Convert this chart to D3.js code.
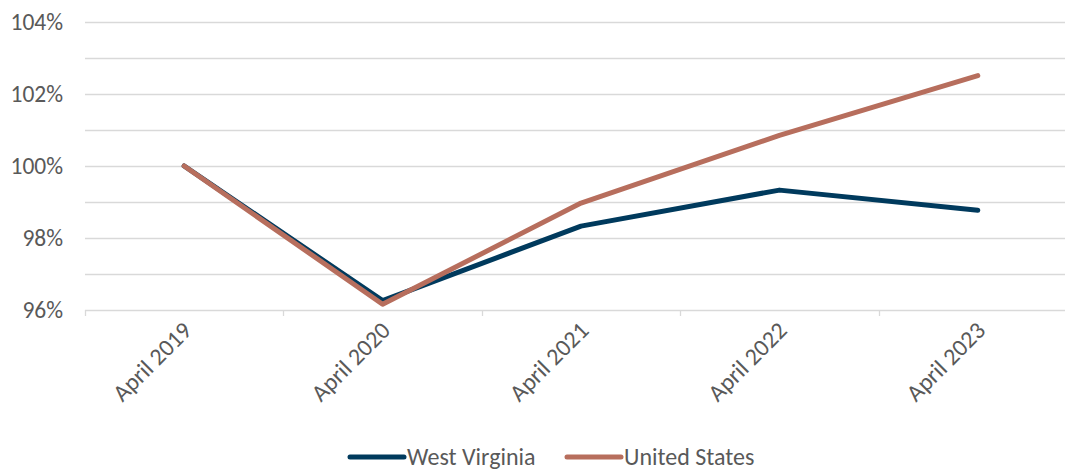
<!DOCTYPE html>
<html>
<head>
<meta charset="utf-8">
<script src="https://cdn.jsdelivr.net/npm/d3@7"></script>
<style>
  body { margin: 0; background: #fff; }
  svg { display: block; font-family: Carlito, "Open Sans", "Liberation Sans", sans-serif; }
</style>
</head>
<body>
<div id="chart"></div>
<script>
const width = 1065;
const height = 470;

// Data
const categories = ["April 2019", "April 2020", "April 2021", "April 2022", "April 2023"];
const westVirginia = [100, 96.26, 98.33, 99.33, 98.77];
const unitedStates = [100, 96.16, 98.97, 100.85, 102.51];
const yTicks = [96, 98, 100, 102, 104];
const gridTicks = [96, 97, 98, 99, 100, 101, 102, 103, 104];

const series = [
    { name: "West Virginia", values: westVirginia, color: "#003a5d" },
    { name: "United States", values: unitedStates, color: "#b76e5d" }
];

const margin = { left: 85, top: 22, bottom: 160 };
const plotRight = 1077;
const fontSize = "24px";

const svg = d3.select("#chart").append("svg")
    .attr("width", width)
    .attr("height", height);

const x = d3.scaleBand()
    .domain(categories)
    .range([margin.left, plotRight]);

const y = d3.scaleLinear()
    .domain([96, 104])
    .range([310, margin.top]);

// Gridlines
svg.append("g")
    .selectAll("line")
    .data(gridTicks)
    .enter()
    .append("line")
    .attr("x1", margin.left)
    .attr("x2", plotRight)
    .attr("y1", d => Math.round(y(d)) + 0.5)
    .attr("y2", d => Math.round(y(d)) + 0.5)
    .attr("stroke", "#d9d9d9")
    .attr("stroke-width", 1.3);

// Category tick marks (band boundaries)
svg.append("g")
    .selectAll("line")
    .data(categories)
    .enter()
    .append("line")
    .attr("x1", d => Math.round(x(d)) + 0.5)
    .attr("x2", d => Math.round(x(d)) + 0.5)
    .attr("y1", y(96))
    .attr("y2", y(96) + 6)
    .attr("stroke", "#d9d9d9")
    .attr("stroke-width", 1.3);

// Y labels
svg.append("g")
    .selectAll("text")
    .data(yTicks)
    .enter()
    .append("text")
    .attr("x", 63)
    .attr("y", d => y(d) + 8)
    .attr("text-anchor", "end")
    .attr("fill", "#595959")
    .style("font-size", "23.5px")
    .text(d => d + "%");

// X labels, rotated
svg.append("g")
    .selectAll("text")
    .data(categories)
    .enter()
    .append("text")
    .attr("transform", d => `translate(${x(d) + x.bandwidth() / 2 + 9},${332}) rotate(-45)`)
    .attr("text-anchor", "end")
    .attr("fill", "#595959")
    .style("font-size", fontSize)
    .text(d => d);

// Lines
const line = d3.line()
    .x((d, i) => x(categories[i]) + x.bandwidth() / 2)
    .y(d => y(d));

svg.append("g")
    .selectAll("path")
    .data(series)
    .enter()
    .append("path")
    .attr("d", d => line(d.values))
    .attr("fill", "none")
    .attr("stroke", d => d.color)
    .attr("stroke-width", 5)
    .attr("stroke-linecap", "round")
    .attr("stroke-linejoin", "round");

// Legend
const legendPos = [350, 567];
const legend = svg.append("g")
    .selectAll("g")
    .data(series)
    .enter()
    .append("g")
    .attr("transform", (d, i) => `translate(${legendPos[i]},457)`);

legend.append("line")
    .attr("x1", 0)
    .attr("x2", 54)
    .attr("stroke", d => d.color)
    .attr("stroke-width", 5)
    .attr("stroke-linecap", "round");

legend.append("text")
    .attr("x", 57)
    .attr("y", 8)
    .attr("fill", "#595959")
    .style("font-size", fontSize)
    .text(d => d.name);
</script>
</body>
</html>
